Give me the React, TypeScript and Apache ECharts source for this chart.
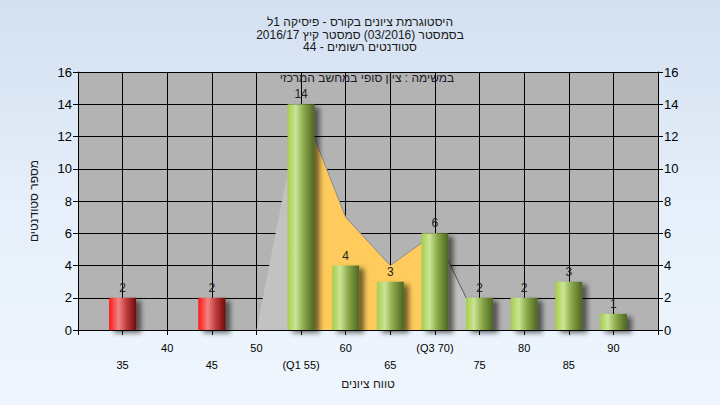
import React, { useEffect, useRef } from "react";
import * as echarts from "echarts";

// ---- data ----
const grades = [35, 40, 45, 50, 55, 60, 65, 70, 75, 80, 85, 90];
const counts = [2, 0, 2, 0, 14, 4, 3, 6, 2, 2, 3, 1];
const passGrade = 50;
const tickLabels: Record<number, string> = {
  35: "35", 40: "40", 45: "45", 50: "50", 55: "(Q1 55)", 60: "60",
  65: "65", 70: "(Q3 70)", 75: "75", 80: "80", 85: "85", 90: "90",
};
const upperRowTicks = [40, 50, 60, 70, 80, 90];
// frequency polygon (grey) and inter-quartile region (yellow)
const freqPolygon = [[50, 0], [55, 14], [60, 7], [65, 4], [70, 6], [73.5, 2], [75, 0]];
const iqrPolygon = [[55, 14], [60, 7], [65, 4], [70, 6]];

const RLE = "\u202B";
const PDF = "\u202C";
const rtl = (s: string) => RLE + s + PDF;

const titleLines = [
  "היסטוגרמת ציונים בקורס - פיסיקה 1ל",
  "בסמסטר (03/2016) סמסטר קיץ 2016/17",
  "סטודנטים רשומים - 44",
];
const noteText = "במשימה : ציון סופי במחשב המרכזי";
const xName = "טווח ציונים";
const yName = "מספר סטודנטים";

const FONT = "Liberation Sans, Arial, sans-serif";

export default function App() {
  const ref = useRef<HTMLDivElement>(null);
  useEffect(() => {
    if (!ref.current) return;
    const chart = echarts.init(ref.current, null, { renderer: "svg" });
    const green = new echarts.graphic.LinearGradient(0, 0, 1, 0, [
      { offset: 0, color: "#A4CE4A" },
      { offset: 0.3, color: "#CBE496" },
      { offset: 0.6, color: "#8AA848" },
      { offset: 1, color: "#4C6524" },
    ]);
    const red = new echarts.graphic.LinearGradient(0, 0, 1, 0, [
      { offset: 0, color: "#FF1414" },
      { offset: 0.35, color: "#F08484" },
      { offset: 0.65, color: "#C03A3A" },
      { offset: 1, color: "#6E0C0C" },
    ]);
    const barData = grades.map((g, i) => ({
      value: [g, counts[i]],
      itemStyle: { color: g < passGrade ? red : green },
    }));
    const yAxisCommon = {
      type: "value" as const,
      min: 0,
      max: 16,
      interval: 2,
      axisLine: { show: true, lineStyle: { color: "#000", width: 1 } },
      axisTick: { show: true, length: 5, lineStyle: { color: "#000" } },
      axisLabel: { color: "#000", fontSize: 13, fontFamily: FONT, margin: 6 },
    };
    chart.setOption({
      animation: false,
      backgroundColor: "transparent",
      textStyle: { fontFamily: FONT },
      title: {
        text: titleLines.map(rtl).join("\n"),
        left: "center",
        top: 11,
        textStyle: { fontSize: 12, fontWeight: "normal", color: "#1a1a1a", lineHeight: 12.5, fontFamily: FONT },
      },
      graphic: [
        {
          type: "text",
          x: 367,
          y: 78,
          style: {
            text: rtl(noteText),
            fill: "#1a1a2a",
            font: "12px " + FONT,
            textAlign: "center",
            textVerticalAlign: "middle",
          },
          z: 100,
        },
      ],
      grid: {
        left: 78,
        right: 62,
        top: 72,
        bottom: 75,
        show: true,
        backgroundColor: "#B3B3B3",
        borderWidth: 0,
      },
      xAxis: {
        type: "value",
        min: 30,
        max: 95,
        interval: 5,
        name: rtl(xName),
        nameLocation: "middle",
        nameGap: 44,
        nameTextStyle: { fontSize: 12, color: "#1a1a1a", fontFamily: FONT },
        axisLine: { show: true, onZero: false, lineStyle: { color: "#000", width: 1 } },
        axisTick: { show: true, length: 5, lineStyle: { color: "#000" } },
        splitLine: { show: true, lineStyle: { color: "#000", width: 1 } },
        axisLabel: {
          color: "#000",
          fontSize: 11,
          fontFamily: FONT,
          margin: 9,
          lineHeight: 17,
          formatter: (v: number) => {
            const t = tickLabels[v];
            if (!t) return "";
            return upperRowTicks.includes(v) ? t : "\n" + t;
          },
        },
      },
      yAxis: [
        {
          ...yAxisCommon,
          position: "left",
          name: rtl(yName),
          nameLocation: "middle",
          nameGap: 38,
          nameTextStyle: { fontSize: 12, color: "#1a1a1a", fontFamily: FONT },
          splitLine: { show: true, lineStyle: { color: "#000", width: 1 } },
        },
        {
          ...yAxisCommon,
          position: "right",
          splitLine: { show: false },
        },
      ],
      series: [
        {
          type: "line",
          data: freqPolygon,
          symbol: "none",
          z: 1,
          lineStyle: { width: 0, opacity: 0 },
          areaStyle: { color: "#C2C2C2", opacity: 1 },
        },
        {
          type: "line",
          data: freqPolygon.slice(4, 6),
          symbol: "none",
          z: 3,
          lineStyle: { color: "#5a5a5a", width: 1 },
        },
        {
          type: "line",
          data: iqrPolygon,
          symbol: "none",
          z: 2,
          lineStyle: { color: "#8a8a8a", width: 1 },
          areaStyle: { color: "#FECB5C", opacity: 1 },
        },
        {
          type: "bar",
          data: barData,
          barWidth: 27,
          z: 5,
          itemStyle: {
            shadowColor: "rgba(0,0,0,0.55)",
            shadowBlur: 5,
            shadowOffsetX: 5,
            shadowOffsetY: 3,
          },
          label: {
            show: true,
            position: "top",
            distance: 4,
            color: "#222",
            fontSize: 12,
            fontFamily: FONT,
            formatter: (p: any) => (p.value[1] ? String(p.value[1]) : ""),
          },
        },
      ],
    });
    return () => chart.dispose();
  }, []);
  return (
    <div
      ref={ref}
      style={{
        position: "fixed",
        left: 0,
        top: 0,
        width: 720,
        height: 405,
        background: "linear-gradient(180deg, #D3E0F1 0%, #E6EFFA 50%, #EFF6FD 100%)",
      }}
    />
  );
}
